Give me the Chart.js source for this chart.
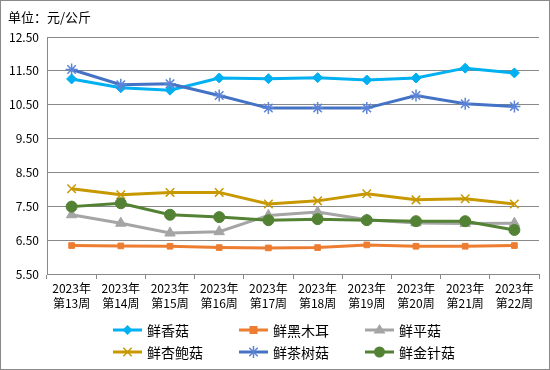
<!DOCTYPE html>
<html><head><meta charset="utf-8">
<script src="https://cdn.jsdelivr.net/npm/chart.js"></script>
<style>html,body{margin:0;padding:0;background:#fff}canvas{display:block}</style>
</head><body>
<div style="width:550px;height:370px;position:relative"><canvas id="c" width="550" height="370"></canvas></div>
<script>
const categories = [["2023年","第13周"],["2023年","第14周"],["2023年","第15周"],["2023年","第16周"],["2023年","第17周"],["2023年","第18周"],["2023年","第19周"],["2023年","第20周"],["2023年","第21周"],["2023年","第22周"]];
const xiangguValues   = [11.26, 11.00, 10.93, 11.29, 11.27, 11.30, 11.23, 11.29, 11.58, 11.44];
const heimuerValues   = [6.34, 6.33, 6.32, 6.28, 6.27, 6.28, 6.36, 6.32, 6.32, 6.34];
const pingguValues    = [7.25, 7.00, 6.71, 6.75, 7.23, 7.33, 7.10, 7.01, 6.99, 7.00];
const xingbaoguValues = [8.02, 7.84, 7.91, 7.91, 7.57, 7.66, 7.87, 7.69, 7.72, 7.57];
const chashuguValues  = [11.54, 11.09, 11.12, 10.77, 10.40, 10.40, 10.40, 10.77, 10.53, 10.45];
const jinzhenguValues = [7.49, 7.59, 7.25, 7.18, 7.09, 7.12, 7.09, 7.06, 7.06, 6.80];
const seriesNames = ["鲜香菇","鲜黑木耳","鲜平菇","鲜杏鲍菇","鲜茶树菇","鲜金针菇"];
const yTicksMin = 5.5, yTicksMax = 12.5, yTicksStep = 1;
const unitLabel = "单位：元/公斤";

const FONT = '"Noto Sans CJK SC", "Microsoft YaHei", sans-serif';
const styles = [
  {color:'#00B0F0', mcolor:'#00B0F0', ps:'rectRot', r:5},
  {color:'#ED7D31', mcolor:'#ED7D31', ps:'rect', r:4},
  {color:'#A5A5A5', mcolor:'#A5A5A5', ps:'triangle', r:6},
  {color:'#C89800', mcolor:'#C89800', ps:'crossRot', r:6},
  {color:'#4472C4', mcolor:'#5B84D6', ps:'star', r:6},
  {color:'#548235', mcolor:'#548235', ps:'circle', r:5.5}
];
const allValues = [xiangguValues, heimuerValues, pingguValues, xingbaoguValues, chashuguValues, jinzhenguValues];

const datasets = allValues.map((vals, i) => ({
  label: seriesNames[i],
  data: vals,
  borderColor: styles[i].color,
  backgroundColor: styles[i].mcolor,
  pointBackgroundColor: styles[i].mcolor,
  pointBorderColor: styles[i].mcolor,
  pointStyle: styles[i].ps,
  pointRadius: styles[i].r,
  pointHoverRadius: styles[i].r,
  pointBorderWidth: (styles[i].ps==='crossRot'||styles[i].ps==='star') ? 1.5 : 1,
  borderWidth: 3,
  tension: 0,
  order: 10 - i
}));

function drawMarker(ctx, s, x, y) {
  ctx.save();
  ctx.fillStyle = s.mcolor; ctx.strokeStyle = s.mcolor;
  const r = s.r;
  ctx.beginPath();
  if (s.ps === 'rectRot') {
    ctx.moveTo(x, y - r); ctx.lineTo(x + r, y); ctx.lineTo(x, y + r); ctx.lineTo(x - r, y); ctx.closePath(); ctx.fill();
  } else if (s.ps === 'rect') {
    ctx.fillRect(x - r, y - r, 2*r, 2*r);
  } else if (s.ps === 'triangle') {
    ctx.moveTo(x, y - r); ctx.lineTo(x + r, y + r*0.6); ctx.lineTo(x - r, y + r*0.6); ctx.closePath(); ctx.fill();
  } else if (s.ps === 'crossRot') {
    ctx.lineWidth = 1.5;
    ctx.moveTo(x - r*0.7, y - r*0.7); ctx.lineTo(x + r*0.7, y + r*0.7);
    ctx.moveTo(x + r*0.7, y - r*0.7); ctx.lineTo(x - r*0.7, y + r*0.7); ctx.stroke();
  } else if (s.ps === 'star') {
    ctx.lineWidth = 1.5;
    ctx.moveTo(x - r*0.7, y - r*0.7); ctx.lineTo(x + r*0.7, y + r*0.7);
    ctx.moveTo(x + r*0.7, y - r*0.7); ctx.lineTo(x - r*0.7, y + r*0.7);
    ctx.moveTo(x, y - r); ctx.lineTo(x, y + r); ctx.stroke();
  } else {
    ctx.arc(x, y, r, 0, Math.PI*2); ctx.fill();
  }
  ctx.restore();
}

const decorPlugin = {
  id: 'decor',
  afterDraw(chart) {
    const ctx = chart.ctx;
    ctx.save();
    // border
    ctx.strokeStyle = '#898989'; ctx.lineWidth = 1;
    ctx.strokeRect(0.5, 0.5, 549, 369);
    // title
    ctx.fillStyle = '#000'; ctx.font = '13px ' + FONT;
    ctx.textBaseline = 'middle'; ctx.textAlign = 'left';
    ctx.fillText(unitLabel, 8, 17);
    // legend
    const cols = [113, 239, 365];
    const rows = [330, 352];
    ctx.font = '14px ' + FONT;
    seriesNames.forEach((name, i) => {
      const x0 = cols[i % 3], y0 = rows[Math.floor(i / 3)];
      const s = styles[i];
      ctx.strokeStyle = s.color; ctx.lineWidth = 3;
      ctx.beginPath(); ctx.moveTo(x0, y0); ctx.lineTo(x0 + 29, y0); ctx.stroke();
      drawMarker(ctx, s, x0 + 14.5, y0);
      ctx.fillStyle = '#000'; ctx.textBaseline = 'middle'; ctx.textAlign = 'left';
      ctx.fillText(name, x0 + 34, y0 + 1);
    });
    ctx.restore();
  }
};

new Chart(document.getElementById('c'), {
  type: 'line',
  data: { labels: categories, datasets },
  plugins: [decorPlugin],
  options: {
    responsive: false,
    animation: false,
    devicePixelRatio: 1,
    layout: { padding: { top: 37, right: 11, bottom: 46, left: 0 } },
    plugins: { legend: { display: false }, title: { display: false }, tooltip: { enabled: false } },
    scales: {
      x: {
        offset: true,
        grid: { offset: true, drawOnChartArea: false, drawTicks: true, tickLength: 5, color: '#898989' },
        border: { display: true, color: '#898989', width: 1 },
        ticks: { color: '#000', font: { family: FONT, size: 12, lineHeight: 1.25 }, maxRotation: 0, autoSkip: false, padding: 2 },
        afterFit(s) { s.height = 50; }
      },
      y: {
        min: yTicksMin, max: yTicksMax,
        ticks: { stepSize: yTicksStep, color: '#000', font: { family: FONT, size: 12 }, padding: 8,
                 callback: v => Number(v).toFixed(2) },
        grid: { color: '#898989', drawTicks: false, lineWidth: 1 },
        border: { display: true, color: '#898989', width: 1 },
        afterFit(s) { s.width = 47; }
      }
    }
  }
});
</script>
</body></html>
